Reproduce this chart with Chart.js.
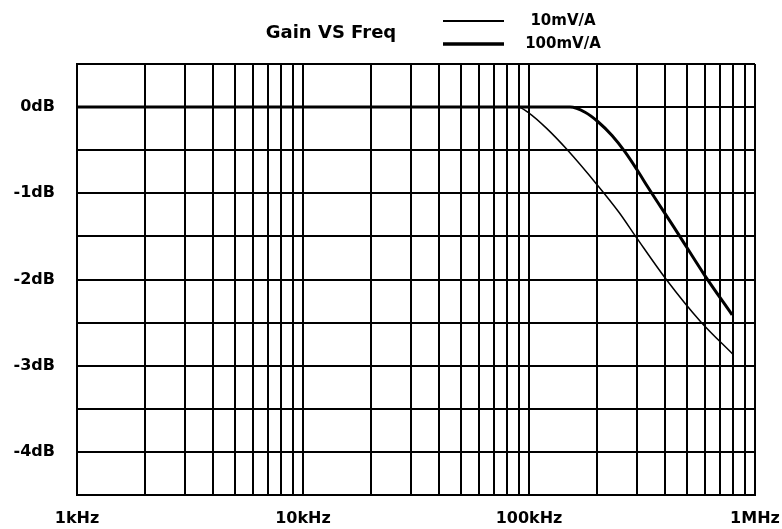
<!DOCTYPE html>
<html>
<head>
<meta charset="utf-8">
<script src="https://cdn.jsdelivr.net/npm/chart.js@4/dist/chart.umd.min.js"></script>
<style>
  html, body { margin: 0; padding: 0; background: #fff; }
  #wrap { width: 782px; height: 529px; position: relative; }
</style>
</head>
<body>
<div id="wrap"><canvas id="chart"></canvas></div>
<script>
// curve readings (frequency in Hz, gain in dB)
const freq10 = [1000, 10000, 50000, 89000, 100000, 120000, 147000, 200000, 250000, 300000, 405000, 575000, 800000]
const gain10 = [0, 0, 0, 0, -0.07, -0.25, -0.49, -0.9, -1.22, -1.52, -2.0, -2.49, -2.87]

const freq100 = [1000, 10000, 100000, 152000, 177000, 202000, 233000, 266000, 301000, 336000, 447000, 595000, 792000]
const gain100 = [0, 0, 0, 0, -0.06, -0.17, -0.33, -0.52, -0.73, -0.93, -1.43, -1.94, -2.41]

const seriesNames = ["10mV/A", "100mV/A"]
const chartTitle = "Gain VS Freq"

// log grid: 1..9 per decade, labels only on decades
const gridFreqs = [
  1000, 2000, 3000, 4000, 5000, 6000, 7000, 8000, 9000,
  10000, 20000, 30000, 40000, 50000, 60000, 70000, 80000, 90000,
  100000, 200000, 300000, 400000, 500000, 600000, 700000, 800000, 900000,
  1000000
]
const decadeLabels = { 1000: "1kHz", 10000: "10kHz", 100000: "100kHz", 1000000: "1MHz" }

const toPoints = (xs, ys) => xs.map((x, i) => ({ x, y: ys[i] }))

const FONT = "DejaVu Sans"
Chart.defaults.font.family = FONT
Chart.defaults.color = "#000"

// title and two-row legend sitting above the plot
const headerPlugin = {
  id: "header",
  afterDraw(chart) {
    const ctx = chart.ctx
    ctx.save()
    ctx.fillStyle = "#000"
    ctx.textBaseline = "middle"
    ctx.textAlign = "center"
    ctx.font = `bold 18px "${FONT}"`
    ctx.fillText(chartTitle, 331, 33)

    const rows = [21, 44]
    ctx.font = `bold 15px "${FONT}"`
    chart.data.datasets.forEach((ds, i) => {
      const y = rows[i]
      ctx.strokeStyle = "#000"
      ctx.lineWidth = ds.borderWidth + 0.5
      ctx.beginPath()
      ctx.moveTo(443, y)
      ctx.lineTo(504, y)
      ctx.stroke()
      ctx.fillText(ds.label, 563, y)
    })
    ctx.restore()
  }
}

new Chart(document.getElementById("chart"), {
  type: "line",
  data: {
    datasets: [
      {
        label: seriesNames[0],
        data: toPoints(freq10, gain10),
        borderColor: "#000",
        borderWidth: 1.5,
        pointRadius: 0,
        fill: false,
        cubicInterpolationMode: "monotone",
      },
      {
        label: seriesNames[1],
        data: toPoints(freq100, gain100),
        borderColor: "#000",
        borderWidth: 3,
        pointRadius: 0,
        fill: false,
        cubicInterpolationMode: "monotone",
      },
    ],
  },
  options: {
    responsive: true,
    maintainAspectRatio: false,
    animation: false,
    layout: { padding: { top: 64, right: 27, bottom: 0, left: 0 } },
    plugins: {
      legend: { display: false },
      title: { display: false },
      tooltip: { enabled: false },
    },
    scales: {
      x: {
        type: "logarithmic",
        min: 1000,
        max: 1000000,
        afterBuildTicks: (scale) => { scale.ticks = gridFreqs.map(v => ({ value: v })) },
        afterFit: (scale) => {
          scale.height = 34
          scale.paddingLeft = 0
          scale.paddingRight = 0
        },
        grid: { color: "#000", lineWidth: 2, drawTicks: false },
        border: { color: "#000", width: 2 },
        ticks: {
          autoSkip: false,
          maxRotation: 0,
          padding: 14,
          font: { size: 16, weight: "bold" },
          callback: (v) => decadeLabels[v] ?? "",
        },
      },
      y: {
        min: -4.5,
        max: 0.5,
        afterFit: (scale) => { scale.width = 77 },
        grid: { color: "#000", lineWidth: 2, drawTicks: false },
        border: { color: "#000", width: 2 },
        ticks: {
          stepSize: 0.5,
          padding: 22,
          font: { size: 16, weight: "bold" },
          callback: (v) => Number.isInteger(v) ? `${v}dB` : "",
        },
      },
    },
  },
  plugins: [headerPlugin],
})
</script>
</body>
</html>
